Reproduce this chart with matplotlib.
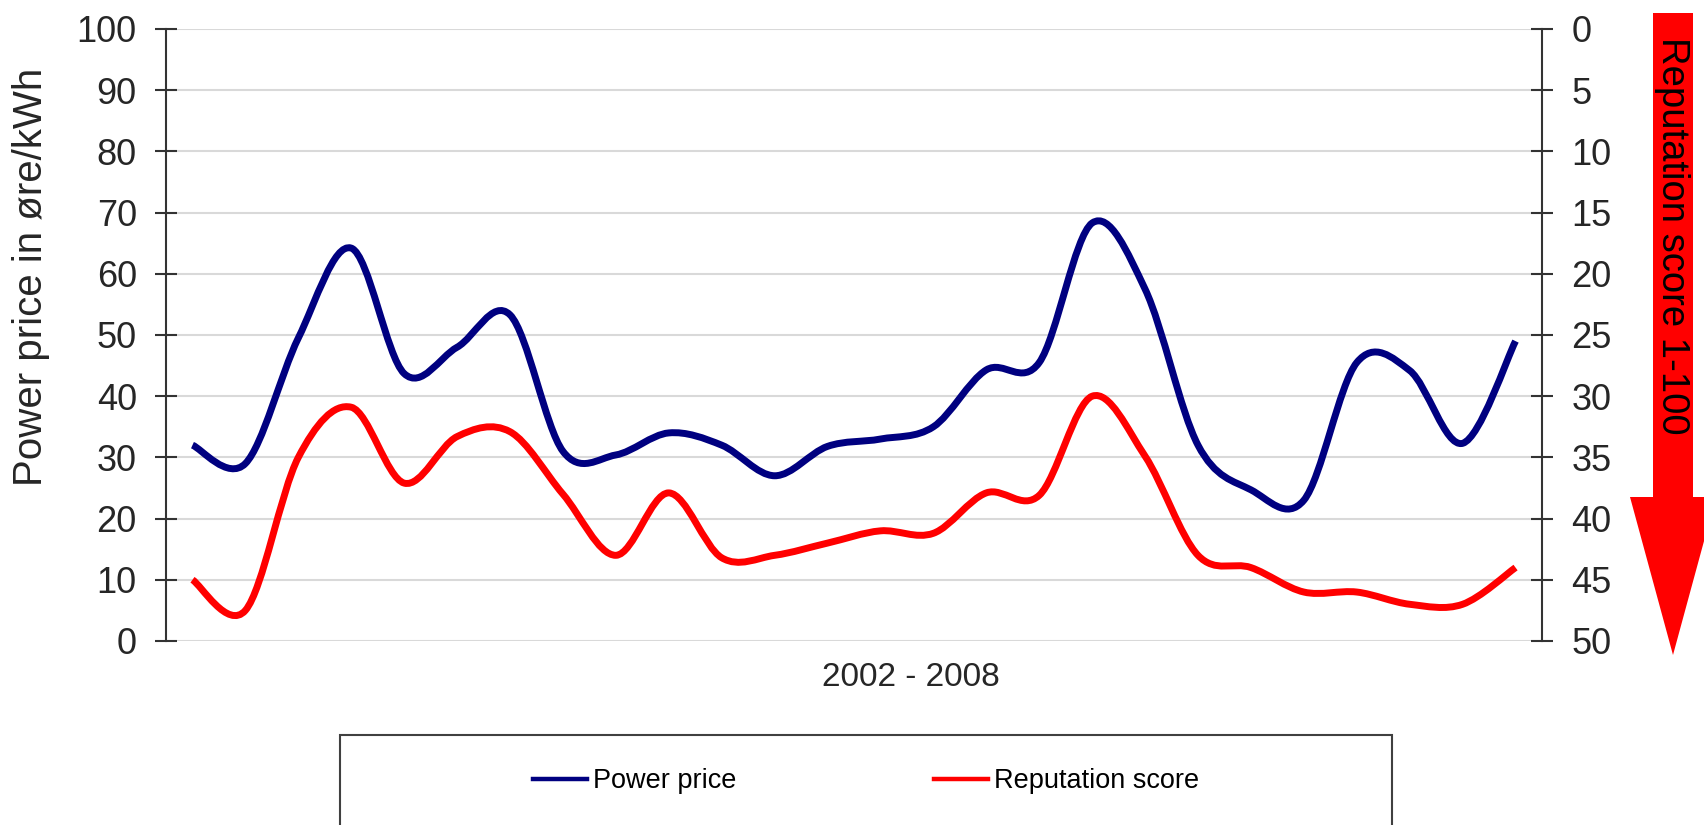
import matplotlib
matplotlib.use("Agg")
import matplotlib.pyplot as plt
from matplotlib.path import Path
from matplotlib.patches import PathPatch, Polygon, Rectangle
from matplotlib.lines import Line2D
import numpy as np

plt.rcParams['font.family'] = ['Liberation Sans', 'DejaVu Sans']

# 26 observations, 2002 - 2008
periods = list(range(1, 27))
power_price = [32, 29, 49.5, 64.2, 43.7, 48, 53.3, 31, 30.4, 34, 32, 27, 31.8,
               33, 35, 44.3, 45.5, 68.3, 57.5, 32, 24.7, 23, 45.5, 44.2, 32.3, 49]
# reputation score, read on the inverted right axis
reputation = [45, 47.5, 35, 30.9, 37.1, 33.3, 32.9, 38, 43, 37.9, 43.2, 43, 42,
              41, 41.2, 37.9, 38.1, 30, 34.9, 43, 44, 46, 46, 47, 47, 44]
left_ticks = list(range(0, 101, 10))
right_ticks = list(range(0, 51, 5))

blue = '#000080'
red = '#ff0000'
txt = '#262626'


def smooth_path(x, y):
    # Excel-style smoothed line: cubic Bezier through each point
    x = np.asarray(x, float)
    y = np.asarray(y, float)
    xp = np.r_[x[0], x, x[-1]]
    yp = np.r_[y[0], y, y[-1]]
    verts = [(x[0], y[0])]
    codes = [Path.MOVETO]
    for i in range(len(x) - 1):
        c1 = (x[i] + (xp[i + 2] - xp[i]) / 6, y[i] + (yp[i + 2] - yp[i]) / 6)
        c2 = (x[i + 1] - (xp[i + 3] - xp[i + 1]) / 6,
              y[i + 1] - (yp[i + 3] - yp[i + 1]) / 6)
        verts += [c1, c2, (x[i + 1], y[i + 1])]
        codes += [Path.CURVE4] * 3
    return Path(verts, codes)


W, H = 1704, 825
fig = plt.figure(figsize=(W / 100, H / 100), dpi=100)
ax = fig.add_axes([166 / W, 1 - 641 / H, 1376 / W, 612 / H])
tw = ax.twinx()

# left axis
ax.set_xlim(0.5, len(periods) + 0.5)
ax.set_ylim(0, 100)
ax.set_xticks([])
ax.set_yticks(left_ticks)
ax.grid(axis='y', color='#d9d9d9', lw=1.5)
ax.set_axisbelow(True)
ax.tick_params(axis='y', direction='inout', length=16, width=1.5,
               color='#333333', labelcolor=txt, labelsize=26, pad=13)
for s in ['top', 'bottom', 'right']:
    ax.spines[s].set_visible(False)
ax.spines['left'].set_color('#333333')
ax.spines['left'].set_linewidth(1.5)

ax.set_ylabel('Power price in øre/kWh', fontsize=29, color=txt)
ax.yaxis.set_label_coords(-0.084, 0.595)
ax.set_xlabel('2002 - 2008', fontsize=24, color=txt)
ax.xaxis.set_label_coords(0.541, -0.034)

# right axis (inverted)
tw.set_ylim(50, 0)
tw.set_yticks(right_ticks)
tw.tick_params(axis='y', direction='inout', length=16, width=1.5,
               color='#333333', labelcolor=txt, labelsize=26, pad=13)
for s in ['top', 'bottom', 'left']:
    tw.spines[s].set_visible(False)
tw.spines['right'].set_color('#333333')
tw.spines['right'].set_linewidth(1.5)

ax.add_patch(PathPatch(smooth_path(periods, power_price), fill=False,
                       edgecolor=blue, lw=5, joinstyle='round'))
tw.add_patch(PathPatch(smooth_path(periods, reputation), fill=False,
                       edgecolor=red, lw=5, joinstyle='round'))

# legend
handles = [Line2D([], [], color=blue, lw=3.2), Line2D([], [], color=red, lw=3.2)]
fig.legend(handles, ['Power price', 'Reputation score'], loc='center',
           bbox_to_anchor=(866 / W, 1 - 781 / H), ncol=2, frameon=False,
           fontsize=19.5, handlelength=2.0, handletextpad=0.2, columnspacing=7.3)
fig.add_artist(Rectangle((3.40, -0.3), 10.52, 1.2, transform=fig.dpi_scale_trans,
                         fill=False, ec='#404040', lw=1.5))

# red arrow with axis title
arrow_px = [(1653, 13), (1693, 13), (1693, 497), (1716, 497),
            (1673, 655), (1630, 497), (1653, 497)]
arrow_in = [(x / 100, (H - y) / 100) for x, y in arrow_px]
fig.add_artist(Polygon(arrow_in, closed=True, transform=fig.dpi_scale_trans,
                       fc=red, ec='none'))
fig.text(1672 / W, 1 - 236 / H, 'Reputation score 1-100', rotation=270,
         ha='center', va='center', fontsize=27.5, color='black')

fig.savefig('out.png', dpi=100)
